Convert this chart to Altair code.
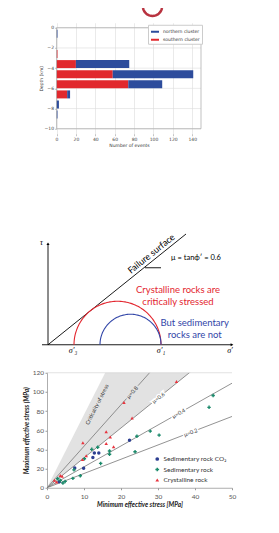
import math
import altair as alt
import pandas as pd

# ---------------- Panel 1: depth histogram ----------------
depth_km = [-0.6, -2.6, -3.6, -4.6, -5.6, -6.6, -7.6, -8.6]
southern_events = [0, 1, 20, 58, 74, 11, 0, 0]
northern_events = [1, 0, 55, 83, 35, 3, 2.5, 1]
depth_ticks = [-10, -8, -6, -4, -2, 0]
event_ticks = [0, 20, 40, 60, 80, 100, 120, 140]
cluster_names = ["northern cluster", "southern cluster"]
cluster_colors = ["#2d4c9c", "#e1282d"]

# ---------------- Panel 2: Mohr circle sketch (schematic units) ----------------
mohr_names = ["crystalline", "sedimentary"]
mohr_sigma3 = [26, 52]
mohr_sigma1 = [113, 113]
mohr_colors = ["#e3262f", "#3246a8"]
failure_end_sigma = 138

# ---------------- Panel 3: stress scatter ----------------
rock_names = ["Sedimentary rock CO\u2082", "Sedimentary rock", "Crystalline rock"]
rock_colors = ["#2c3e91", "#1b8a6b", "#e8333d"]
rock_shapes = ["circle", "cross", "triangle-up"]
co2_s3 = [22.3, 12.8, 14.0, 12.4, 7.5, 9.9, 3.3]
co2_s1 = [49.6, 36.2, 36.2, 31.5, 20.7, 20.3, 6.2]
sed_s3 = [44.9, 43.8, 27.9, 30.3, 24.3, 23.8, 13.7, 12.1, 16.9, 16.9, 10.1, 14.5, 7.3, 9.0, 7.0, 2.9, 3.6, 4.9, 4.3]
sed_s1 = [96.2, 83.9, 59.1, 54.9, 53.8, 37.5, 42.2, 40.1, 38.4, 35.0, 30.2, 25.4, 18.7, 12.5, 9.8, 9.4, 7.7, 6.6, 4.9]
cry_s3 = [35.0, 20.8, 23.0, 16.0, 17.1, 16.0, 9.7, 18.0, 10.6, 9.6, 3.6, 4.1, 2.0, 2.6]
cry_s1 = [110.9, 88.9, 72.7, 58.4, 53.0, 46.2, 46.9, 42.7, 33.3, 29.4, 12.9, 11.9, 7.7, 6.0]
mu_values = [0.2, 0.4, 0.6, 0.8]
mu_label_s3 = [38.8, 35.6, 30.1, 23.0]
mu_shade_upper = 1.2
x_ticks3 = [0, 10, 20, 30, 40, 50]
y_ticks3 = [0, 20, 40, 60, 80, 100, 120]

# ======================= Panel 1 =======================
W1, H1 = 154, 111
rows = []
for d, s, n in zip(depth_km, southern_events, northern_events):
    rows.append({"depth": d, "events": s, "cluster": "southern cluster", "ord": 0})
    rows.append({"depth": d, "events": n, "cluster": "northern cluster", "ord": 1})
bar_df = pd.DataFrame(rows)

x_bar = alt.Scale(domain=[0, 149], range=[9.5, W1], nice=False, zero=False)
y_bar = alt.Scale(domain=[-10, 0], nice=False, zero=False)
small = dict(labelFont="DejaVu Sans", labelFontSize=4.5, labelColor="#444",
             titleFont="DejaVu Sans", titleFontSize=4.5, titleFontWeight="normal",
             titleColor="#333", tickColor="#888", tickSize=2, tickWidth=0.5,
             labelPadding=1, titlePadding=1, labelOverlap=False, labelFlush=False)
ax_x1 = alt.Axis(values=event_ticks, grid=True, gridColor="#dcdcdc", gridWidth=0.6,
                 domain=False, title="Number of events", titleX=82, **small)
ax_y1 = alt.Axis(values=depth_ticks, grid=False, domain=False, offset=-9.5,
                 title="Depth (km)", **small)

ygrid = alt.Chart(pd.DataFrame({"d": depth_ticks, "a": 0, "b": 149})).mark_rule(
    color="#dcdcdc", strokeWidth=0.6).encode(
    y=alt.Y("d:Q", scale=y_bar, axis=ax_y1),
    x=alt.X("a:Q", scale=x_bar, axis=ax_x1), x2="b:Q")
bars = alt.Chart(bar_df).mark_bar(orient="horizontal", size=8).encode(
    x=alt.X("events:Q", stack="zero", scale=x_bar, axis=ax_x1),
    y=alt.Y("depth:Q", scale=y_bar, axis=ax_y1),
    color=alt.Color("cluster:N", scale=alt.Scale(domain=cluster_names, range=cluster_colors),
                    legend=alt.Legend(orient="none", legendX=101, legendY=2, title=None,
                                      fillColor="white", strokeColor="#cccccc", padding=2,
                                      labelFont="DejaVu Sans", labelFontSize=4.5, labelColor="#333",
                                      symbolType="M -1 -0.25 L 1 -0.25 L 1 0.25 L -1 0.25 Z",
                                      symbolSize=64, rowPadding=1, labelOffset=3)),
    order=alt.Order("ord:Q"),
)
frame = alt.Chart(pd.DataFrame({"a": [0], "b": [149], "c": [-10], "d": [0]})).mark_rect(
    filled=False, stroke="#a8a8a8", strokeWidth=0.7).encode(
    x=alt.X("a:Q", scale=x_bar, axis=ax_x1), x2="b:Q",
    y=alt.Y("c:Q", scale=y_bar, axis=ax_y1), y2="d:Q")
# lower part of a red oval cut by the top of the page (decorative glyph)
ARC_PATH = ("M -0.951 0.2 L -0.912 0.342 L -0.840 0.5 L -0.743 0.643 L -0.623 0.766 "
            "L -0.485 0.866 L -0.332 0.94 L -0.168 0.985 L 0 1 L 0.168 0.985 L 0.332 0.94 "
            "L 0.485 0.866 L 0.623 0.766 L 0.743 0.643 L 0.840 0.5 L 0.912 0.342 L 0.951 0.2")
arc = alt.Chart(pd.DataFrame({"k": [0]})).mark_point(
    shape=ARC_PATH, size=400, filled=False, strokeWidth=2.5, strokeJoin="round", strokeCap="butt",
    color="#b8323f", opacity=1
).encode(x=alt.value(105.5), y=alt.value(-16.75))

panel1 = alt.layer(ygrid, bars, frame, arc).properties(width=W1, height=H1)

# ======================= Panel 2 =======================
W2, H2 = 190, 219
mx = alt.Scale(domain=[-1, 189], nice=False, zero=False)
my = alt.Scale(domain=[-18, 201], nice=False, zero=False)

c_red = (mohr_sigma3[0] + mohr_sigma1[0]) / 2
r_red = (mohr_sigma1[0] - mohr_sigma3[0]) / 2
slope = r_red / math.sqrt(c_red ** 2 - r_red ** 2)

seg_df = pd.DataFrame({
    "x": [0, -6, 0, 97],
    "y": [0, 0, 0, 77],
    "x2": [0, 183, failure_end_sigma, 113],
    "y2": [101, 0, slope * failure_end_sigma, 77],
})
segs = alt.Chart(seg_df).mark_rule(color="black", strokeWidth=0.9).encode(
    x=alt.X("x:Q", scale=mx, axis=None), y=alt.Y("y:Q", scale=my, axis=None), x2="x2:Q", y2="y2:Q")
arrows = alt.Chart(pd.DataFrame({"x": [0, 184], "y": [101, 0], "s": ["triangle-up", "triangle-right"]})).mark_point(
    filled=True, size=10, color="black", opacity=1).encode(
    x=alt.X("x:Q", scale=mx, axis=None), y=alt.Y("y:Q", scale=my, axis=None), shape=alt.Shape("s:N", scale=None))

circle_layers = []
for s3, s1, col in zip(mohr_sigma3, mohr_sigma1, mohr_colors):
    c = (s3 + s1) / 2
    r = (s1 - s3) / 2
    circle_layers.append(
        alt.Chart(alt.sequence(0, 181, 2, as_="deg")).transform_calculate(
            sx=f"{c} + {r} * cos(datum.deg * PI / 180)",
            tau=f"{r} * sin(datum.deg * PI / 180)",
        ).mark_line(color=col, strokeWidth=1.1).encode(
            x=alt.X("sx:Q", scale=mx, axis=None), y=alt.Y("tau:Q", scale=my, axis=None), order="deg:Q")
    )

def txt(df, **kw):
    return alt.Chart(df).mark_text(**kw).encode(
        x=alt.X("x:Q", scale=mx, axis=None), y=alt.Y("y:Q", scale=my, axis=None), text="t:N")

ang_fail = 360 - math.degrees(math.atan(slope))
t_fail = txt(pd.DataFrame({"x": [103.3], "y": [91], "t": ["Failure surface"]}),
             font="Lato", fontSize=9, color="black", angle=ang_fail)
t_mu = txt(pd.DataFrame({"x": [148], "y": [87], "t": ["\u03bc = tan\u03d5\u2032 = 0.6"]}),
           font="Lato", fontSize=7.5, color="black")
t_red = txt(pd.DataFrame({"x": [130, 130], "y": [55, 42.7], "t": ["Crystalline rocks are", "critically stressed"]}),
            font="Lato", fontSize=9.5, color="#e3262f")
t_blue = txt(pd.DataFrame({"x": [146.7, 146.7], "y": [22, 10], "t": ["But sedimentary", "rocks are not"]}),
             font="Lato", fontSize=9.5, color="#3246a8")
t_sig = txt(pd.DataFrame({"x": [25, 113, 182, -6.5], "y": [-6, -6, -6, 102],
                          "t": ["\u03c3\u2032\u2083", "\u03c3\u2032\u2081", "\u03c3\u2032", "\u03c4"]}),
            font="Liberation Serif", fontSize=8, fontStyle="italic", color="black")

panel2 = alt.layer(segs, arrows, *circle_layers, t_fail, t_mu, t_red, t_blue, t_sig).properties(width=W2, height=H2)

# ======================= Panel 3 =======================
W3, H3 = 185, 115
kx, ky = W3 / 50, H3 / 120
sx = alt.Scale(domain=[0, 50], nice=False, zero=False)
sy = alt.Scale(domain=[0, 120], nice=False, zero=False)
ax_common = dict(labelFont="Lato", labelFontSize=6.5, labelColor="#555", titleFont="Lato",
                 titleFontSize=6.5, titleFontWeight="bold", titleFontStyle="italic", titleColor="#222",
                 tickSize=2, tickColor="#999", domainColor="#999", domainWidth=0.8, grid=False,
                 labelOverlap=False, labelFlush=False)
ax_x3 = alt.Axis(values=x_ticks3, title="Minimum effective stress [MPa]",
                 labelPadding=3.5, titlePadding=2, **ax_common)
ax_y3 = alt.Axis(values=y_ticks3, title="Maximum effective stress (MPa)",
                 labelPadding=1.5, titlePadding=3, **ax_common)

def mc_ratio(mu):
    return (math.sqrt(1 + mu * mu) + mu) ** 2

def pix_angle(ratio):
    return 360 - math.degrees(math.atan(ratio * ky / kx))

r06 = mc_ratio(0.6)
rup = mc_ratio(mu_shade_upper)
wedge_df = pd.DataFrame({"x": [0, 120 / rup, 120 / r06],
                         "lo": [0, r06 * 120 / rup, 120],
                         "hi": [0, 120, 120]})
wedge = alt.Chart(wedge_df).mark_area(color="#e2e2e2", opacity=1).encode(
    x=alt.X("x:Q", scale=sx, axis=ax_x3), y=alt.Y("lo:Q", scale=sy, axis=ax_y3), y2="hi:Q")

mu_df = pd.DataFrame({"mu": mu_values, "x0": 0, "y0": 0, "x1": 50,
                      "y1": [50 * mc_ratio(m) for m in mu_values]})
mu_lines = alt.Chart(mu_df).mark_rule(color="#777777", strokeWidth=0.8, clip=True).encode(
    x=alt.X("x0:Q", scale=sx, axis=ax_x3), y=alt.Y("y0:Q", scale=sy, axis=ax_y3), x2="x1:Q", y2="y1:Q")

lab_df = pd.DataFrame({
    "x": mu_label_s3,
    "y": [s * mc_ratio(m) for s, m in zip(mu_label_s3, mu_values)],
    "t": [f"\u03bc={m}" for m in mu_values],
    "a": [pix_angle(mc_ratio(m)) for m in mu_values],
    "halo": ["white", "white", "white", "#e2e2e2"],
})
halo = alt.Chart(lab_df).mark_text(font="Lato", fontSize=5.5, strokeWidth=3).encode(
    x=alt.X("x:Q", scale=sx, axis=ax_x3), y=alt.Y("y:Q", scale=sy, axis=ax_y3), text="t:N",
    angle=alt.Angle("a:Q", scale=None), stroke=alt.Stroke("halo:N", scale=None),
    fill=alt.Fill("halo:N", scale=None))
labs = alt.Chart(lab_df).mark_text(font="Lato", fontSize=5.5, color="#333").encode(
    x=alt.X("x:Q", scale=sx, axis=ax_x3), y=alt.Y("y:Q", scale=sy, axis=ax_y3), text="t:N",
    angle=alt.Angle("a:Q", scale=None))
crit = alt.Chart(pd.DataFrame({"x": [13.5], "y": [87], "t": ["Criticality of stress"]})).mark_text(
    font="Lato", fontSize=5.5, color="#333", angle=pix_angle(rup)).encode(
    x=alt.X("x:Q", scale=sx, axis=ax_x3), y=alt.Y("y:Q", scale=sy, axis=ax_y3), text="t:N")
topline = alt.Chart(pd.DataFrame({"a": [0], "b": [50], "c": [120]})).mark_rule(
    color="#cfcfcf", strokeWidth=0.6).encode(
    x=alt.X("a:Q", scale=sx, axis=ax_x3), x2="b:Q", y=alt.Y("c:Q", scale=sy, axis=ax_y3))

pts = pd.DataFrame({
    "s3": co2_s3 + sed_s3 + cry_s3,
    "s1": co2_s1 + sed_s1 + cry_s1,
    "rock": [rock_names[0]] * len(co2_s3) + [rock_names[1]] * len(sed_s3) + [rock_names[2]] * len(cry_s3),
})
points = alt.Chart(pts).mark_point(filled=True, size=12, opacity=1).encode(
    x=alt.X("s3:Q", scale=sx, axis=ax_x3),
    y=alt.Y("s1:Q", scale=sy, axis=ax_y3),
    color=alt.Color("rock:N", scale=alt.Scale(domain=rock_names, range=rock_colors),
                    legend=alt.Legend(orient="none", legendX=107, legendY=83, title=None,
                                      labelFont="Lato", labelFontSize=6.5, labelColor="#333",
                                      symbolSize=14, rowPadding=3.5, padding=0, labelOffset=3)),
    shape=alt.Shape("rock:N", scale=alt.Scale(domain=rock_names, range=rock_shapes)),
)

panel3 = alt.layer(wedge, mu_lines, halo, labs, crit, topline, points).properties(width=W3, height=H3)

chart = alt.vconcat(panel1, panel2, panel3, spacing=10, bounds="flush").resolve_scale(
    color="independent", shape="independent", x="independent", y="independent"
).resolve_legend(color="independent", shape="independent").properties(
    padding={"left": 15, "top": -1.25, "right": 4, "bottom": 4}
).configure_view(stroke=None).configure_axis(labelOverlap=False)

chart.save("out.html", embed_options={"renderer": "svg", "actions": False})
